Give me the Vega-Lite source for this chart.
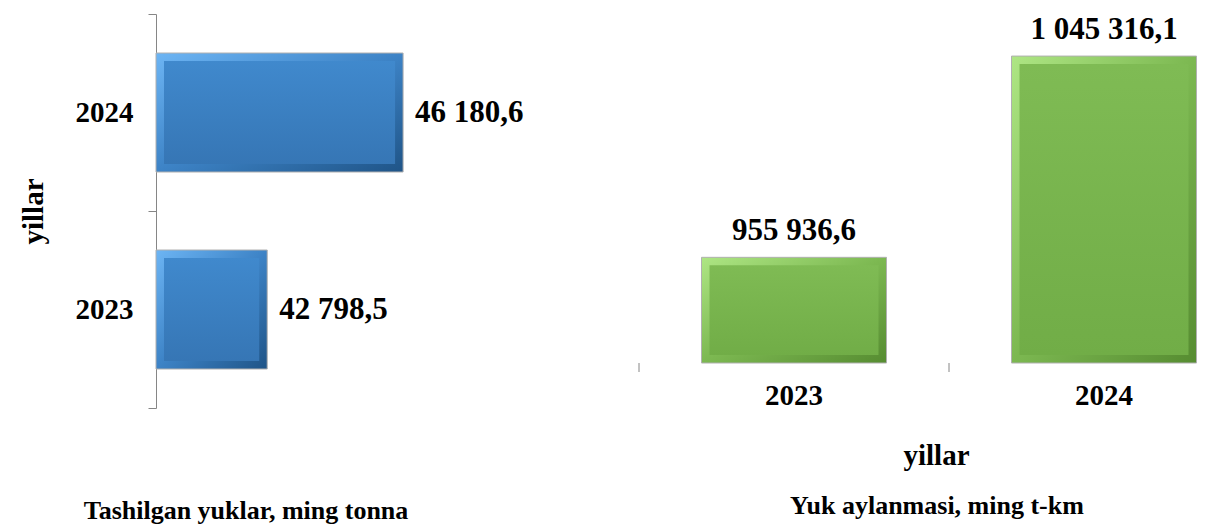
{
  "$schema": "https://vega.github.io/schema/vega-lite/v6.json",
  "padding": {"left": 19, "top": 0, "right": 0, "bottom": 0},
  "bounds": "flush",
  "spacing": 203,
  "background": "white",
  "config": {
    "font": "Liberation Serif",
    "view": {"stroke": null},
    "locale": {"number": {"decimal": ",", "thousands": " ", "grouping": [3], "currency": ["", ""]}},
    "axis": {
      "labelFont": "Liberation Serif", "labelFontSize": 29, "labelFontWeight": "bold", "labelColor": "#000000",
      "titleFont": "Liberation Serif", "titleFontSize": 29, "titleFontWeight": "bold", "titleColor": "#000000",
      "domainColor": "#868686", "tickColor": "#868686", "grid": false
    },
    "title": {"font": "Liberation Serif", "fontSize": 26, "fontWeight": "bold", "color": "#000000"}
  },
  "hconcat": [
    {
      "width": 280,
      "height": 394,
      "data": {"values": [
        {"year": "2023", "value": 42798.5},
        {"year": "2024", "value": 46180.6}
      ]},
      "title": {"text": "Tashilgan yuklar, ming tonna", "orient": "bottom", "frame": "group", "anchor": "middle", "dx": -50, "offset": 89},
      "encoding": {
        "y": {
          "field": "year", "type": "nominal", "sort": ["2024", "2023"],
          "scale": {"paddingInner": 0, "paddingOuter": 0},
          "axis": {"title": "yillar", "tickBand": "extent", "tickSize": 8, "labelPadding": 15, "titlePadding": 27, "labelAngle": 0}
        }
      },
      "layer": [
        {
          "mark": {"type": "bar", "size": 119, "stroke": "#b0b0b0", "strokeWidth": 1,
            "color": {"gradient": "linear", "x1": 0, "y1": 0, "x2": 1, "y2": 1,
              "stops": [{"offset": 0, "color": "#6db5f4"}, {"offset": 0.5, "color": "#3d83c6"}, {"offset": 1, "color": "#1f5487"}]}},
          "encoding": {
            "x": {"field": "value", "type": "quantitative", "scale": {"domain": [40030, 47000], "zero": false, "nice": false}, "axis": null},
            "x2": {"datum": 40030}
          }
        },
        {
          "mark": {"type": "bar", "size": 103, "xOffset": -8, "x2Offset": 8,
            "color": {"gradient": "linear", "x1": 0, "y1": 0, "x2": 0, "y2": 1,
              "stops": [{"offset": 0, "color": "#4089cd"}, {"offset": 1, "color": "#3676b5"}]}},
          "encoding": {
            "x": {"field": "value", "type": "quantitative"},
            "x2": {"datum": 40030}
          }
        },
        {
          "mark": {"type": "text", "align": "left", "baseline": "middle", "dx": 12, "fontSize": 31, "fontWeight": "bold", "color": "#000000"},
          "encoding": {
            "x": {"field": "value", "type": "quantitative"},
            "text": {"field": "value", "type": "quantitative", "format": ",.1f"}
          }
        }
      ]
    },
    {
      "width": 582,
      "height": 349,
      "data": {"values": [
        {"year": "2023", "value": 955936.6},
        {"year": "2024", "value": 1045316.1}
      ]},
      "title": {"text": "Yuk aylanmasi, ming t-km", "orient": "bottom", "frame": "group", "anchor": "middle", "dx": 7, "offset": 23},
      "encoding": {
        "x": {
          "field": "year", "type": "nominal", "sort": ["2023", "2024"],
          "scale": {"paddingInner": 0, "paddingOuter": 0, "range": [0, 620]},
          "axis": {"title": "yillar", "domain": false, "ticks": false, "labelPadding": 18, "titlePadding": 31, "labelAngle": 0, "titleX": 297}
        }
      },
      "layer": [
        {
          "mark": {"type": "rule", "color": "#868686", "strokeWidth": 1},
          "encoding": {
            "y": {"datum": 909000, "type": "quantitative", "scale": {"domain": [909000, 1064000], "zero": false, "nice": false}, "axis": null}
          }
        },
        {
          "mark": {"type": "rule", "color": "#868686", "strokeWidth": 1, "y2Offset": 9},
          "encoding": {
            "x": {"field": "year", "type": "nominal", "bandPosition": 0},
            "y": {"datum": 909000, "type": "quantitative"},
            "y2": {"datum": 909000}
          }
        },
        {
          "mark": {"type": "bar", "size": 185, "stroke": "#b0b0b0", "strokeWidth": 1,
            "color": {"gradient": "linear", "x1": 0, "y1": 0, "x2": 1, "y2": 1,
              "stops": [{"offset": 0, "color": "#aee684"}, {"offset": 0.5, "color": "#7cb851"}, {"offset": 1, "color": "#568c31"}]}},
          "encoding": {
            "y": {"field": "value", "type": "quantitative"},
            "y2": {"datum": 909000}
          }
        },
        {
          "mark": {"type": "bar", "size": 169, "yOffset": 8, "y2Offset": -8,
            "color": {"gradient": "linear", "x1": 0, "y1": 0, "x2": 0, "y2": 1,
              "stops": [{"offset": 0, "color": "#7fbb54"}, {"offset": 1, "color": "#71ad47"}]}},
          "encoding": {
            "y": {"field": "value", "type": "quantitative"},
            "y2": {"datum": 909000}
          }
        },
        {
          "mark": {"type": "text", "align": "center", "baseline": "bottom", "dy": -10, "fontSize": 31, "fontWeight": "bold", "color": "#000000"},
          "encoding": {
            "y": {"field": "value", "type": "quantitative"},
            "text": {"field": "value", "type": "quantitative", "format": ",.1f"}
          }
        }
      ]
    }
  ]
}
